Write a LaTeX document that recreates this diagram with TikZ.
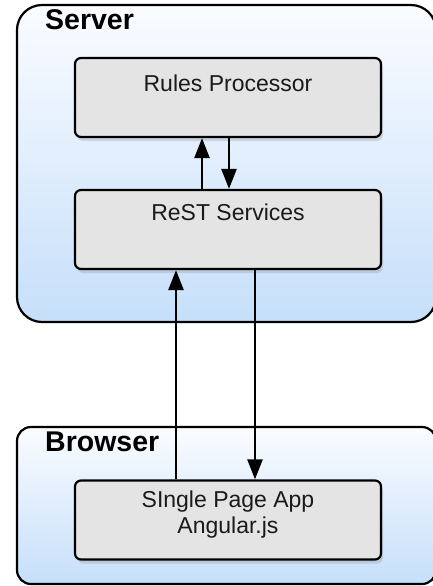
\documentclass[tikz,border=0pt]{standalone}
\usepackage{fontspec}
\setmainfont{Liberation Sans}
\usetikzlibrary{arrows.meta,shadows}
\definecolor{zonetop}{HTML}{FAFCFF}
\definecolor{zonebot}{HTML}{C6DFFA}
\definecolor{boxfill}{HTML}{E4E4E4}
\definecolor{ink}{HTML}{1A1A1A}
\tikzset{
  zone/.style={draw=black, line width=2.2pt, rounded corners=#1,
    top color=zonetop, bottom color=zonebot, inner sep=0pt},
  zonelabel/.style={font=\fontsize{28.5}{30}\selectfont\bfseries, text=black, anchor=west, inner sep=0pt},
  compbox/.style={draw=black, line width=2.2pt, rounded corners=6pt, fill=boxfill,
    minimum width=306pt, minimum height=79pt, inner sep=0pt,
    drop shadow={opacity=0.25, shadow xshift=2pt, shadow yshift=-4pt}},
  comptext/.style={font=\fontsize{23}{26}\selectfont, text=ink, align=center, inner sep=0pt},
  arr/.style={line width=2.4pt, -{Triangle[length=20pt,width=15pt]}}
}
\begin{document}
\begin{tikzpicture}[x=1pt,y=-1pt]
  \useasboundingbox (0,0) rectangle (433,586);
  \clip (0,0) rectangle (433,586);
  % containers
  \node[zone=25pt, minimum width=419pt, minimum height=317pt] (server) at (226.5,163.5) {};
  \node[zonelabel] (serverlbl) at (45,20) {Server};
  \node[zone=14pt, minimum width=419pt, minimum height=157pt] (browser) at (226.5,505.5) {};
  \node[zonelabel] (browserlbl) at (45,442) {Browser};
  % components
  \node[compbox] (rules) at (228,97.5) {};
  \node[comptext] (rulestxt) at (228,83) {Rules Processor};
  \node[compbox] (rest) at (228,229.5) {};
  \node[comptext] (resttxt) at (228,212) {ReST Services};
  \node[compbox] (spa) at (228,520) {};
  \node[comptext] (spatxt) at (228,515) {SIngle Page App\\Angular.js};
  % connectors
  \draw[arr] ([xshift=-26pt]rest.north) -- ([xshift=-26pt]rules.south);
  \draw[arr] ([xshift=1pt]rules.south) -- ([xshift=1pt]rest.north);
  \draw[arr] ([xshift=-52pt]spa.north) -- ([xshift=-52pt]rest.south);
  \draw[arr] ([xshift=27pt]rest.south) -- ([xshift=27pt]spa.north);
\end{tikzpicture}
\end{document}
